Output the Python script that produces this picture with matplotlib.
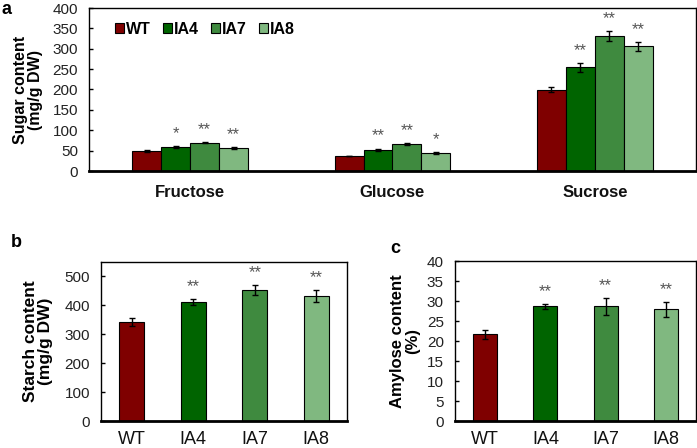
import numpy as np
import matplotlib.pyplot as plt

# data
lines = ['WT', 'IA4', 'IA7', 'IA8']
colors = ['#7f0000', '#006400', '#3f8a3f', '#80b880']

sugars = ['Fructose', 'Glucose', 'Sucrose']
sugar_vals = [[49, 37, 199],     # WT
              [59, 52, 254],     # IA4
              [69, 66, 331],     # IA7
              [56, 44, 306]]     # IA8
sugar_err = [[2, 1, 6],
             [3, 3, 11],
             [1, 2, 12],
             [2, 2, 11]]
sugar_sig = [['', '', ''],
             ['*', '**', '**'],
             ['**', '**', '**'],
             ['**', '*', '**']]

starch_vals = [343, 412, 453, 433]
starch_err = [13, 10, 18, 20]
starch_sig = ['', '**', '**', '**']

amylose_vals = [21.7, 28.7, 28.7, 27.9]
amylose_err = [1.1, 0.6, 2.1, 1.8]
amylose_sig = ['', '**', '**', '**']

plt.rcParams['font.family'] = ['Liberation Sans', 'DejaVu Sans']

W, H = 697, 448
fig = plt.figure(figsize=(W / 100, H / 100), dpi=100)

def px_axes(left, top, right, bottom):
  return fig.add_axes([left / W, 1 - bottom / H, (right - left) / W, (bottom - top) / H])

def style_axes(ax):
  for s in ['left', 'top', 'right']:
    ax.spines[s].set_linewidth(1.0)
  ax.spines['bottom'].set_linewidth(2.0)
  ax.tick_params(axis='y', direction='in', length=3, width=1, labelsize=11,
                 labelcolor='#222222', pad=8)
  ax.tick_params(axis='x', length=0, pad=7)

def stars(ax, x, top, txt):
  if txt:
    ax.annotate(txt, (x, top), xytext=(0, 9), textcoords='offset points',
                ha='center', va='center', fontsize=12, color='#555555')

# panel a
axa = px_axes(89, 8, 696, 171)
style_axes(axa)
xg = np.arange(len(sugars))
bw = 0.143
for j, name in enumerate(lines):
  xs = xg + (j - 1.5) * bw
  axa.bar(xs, sugar_vals[j], bw, color=colors[j], edgecolor='black', linewidth=0.8,
          label=name, zorder=2)
  axa.errorbar(xs, sugar_vals[j], yerr=sugar_err[j], fmt='none', ecolor='black',
               elinewidth=1, capsize=2.5, capthick=1, zorder=3)
  for k in range(len(sugars)):
    stars(axa, xs[k], sugar_vals[j][k] + sugar_err[j][k], sugar_sig[j][k])
axa.set_xlim(-0.5, 2.5)
axa.set_ylim(0, 400)
axa.set_yticks(range(0, 401, 50))
axa.set_xticks(xg)
axa.set_xticklabels(sugars, fontsize=12, fontweight='bold', color='#111111')
axa.tick_params(axis='x', pad=10)
axa.set_ylabel('Sugar content\n(mg/g DW)', fontsize=11.5, fontweight='bold',
               linespacing=1.0)
axa.yaxis.set_label_coords(-0.076, 0.5)
axa.legend(ncol=4, loc='upper left', bbox_to_anchor=(0.027, 0.975), frameon=False,
           handlelength=0.55, handleheight=0.55, handletextpad=0.15, columnspacing=0.75,
           borderaxespad=0.2, prop={'weight': 'bold', 'size': 11.5})

# panels b and c
def single_panel(ax, vals, err, sig, ylim, step, ylabel, labx, labsize):
  style_axes(ax)
  x = np.arange(len(lines))
  ax.bar(x, vals, 0.4, color=colors, edgecolor='black', linewidth=0.8, zorder=2)
  ax.errorbar(x, vals, yerr=err, fmt='none', ecolor='black', elinewidth=1,
              capsize=2.5, capthick=1, zorder=3)
  for i in range(len(lines)):
    stars(ax, x[i], vals[i] + err[i], sig[i])
  ax.set_xlim(-0.5, 3.5)
  ax.set_ylim(0, ylim)
  ax.set_yticks(np.arange(0, ylim + 0.01, step))
  ax.set_xticks(x)
  ax.set_xticklabels(lines, fontsize=13, color='#111111')
  ax.set_ylabel(ylabel, fontsize=labsize, fontweight='bold', linespacing=1.0)
  ax.yaxis.set_label_coords(labx, 0.5)

axb = px_axes(101, 262, 347, 421)
single_panel(axb, starch_vals, starch_err, starch_sig, 550, 100,
             'Starch content\n(mg/g DW)', -0.195, 12.5)
axb.set_yticks(range(0, 501, 100))

axc = px_axes(455, 261, 696, 421)
single_panel(axc, amylose_vals, amylose_err, amylose_sig, 40, 5,
             'Amylose content\n(%)', -0.145, 12)

fig.text(2 / W, 1 - 1 / H, 'a', fontsize=13, fontweight='bold', va='top')
fig.text(11 / W, 1 - 234 / H, 'b', fontsize=13, fontweight='bold', va='top')
fig.text(390 / W, 1 - 240 / H, 'c', fontsize=13, fontweight='bold', va='top')

fig.savefig('out.png', dpi=100)
